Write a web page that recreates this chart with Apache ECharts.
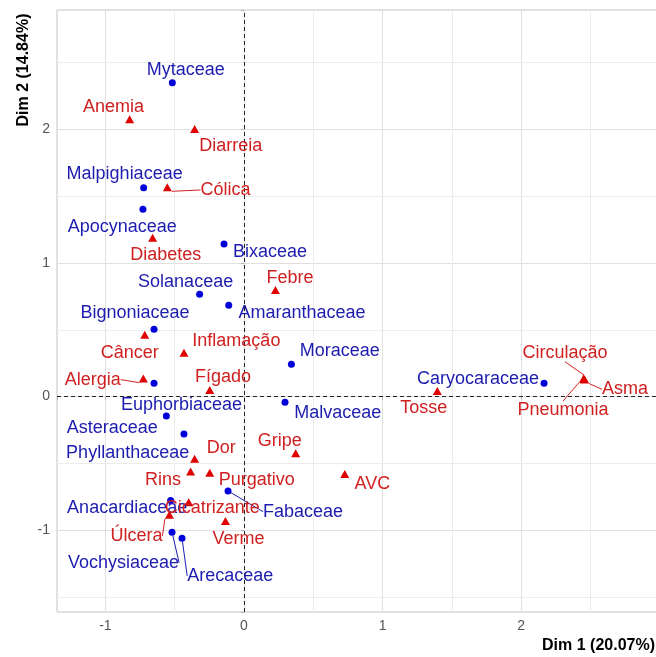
<!DOCTYPE html>
<html>
<head>
<meta charset="utf-8">
<script src="https://cdn.jsdelivr.net/npm/echarts@6/dist/echarts.min.js"></script>
<style>
  html, body { margin: 0; padding: 0; background: #fff; }
  #chart { width: 656px; height: 657px; }
</style>
</head>
<body>
<div id="chart"></div>
<script>
// 一、数据：植物科（蓝色圆点）
const familyNames = ['Mytaceae', 'Malpighiaceae', 'Apocynaceae', 'Bixaceae', 'Solanaceae', 'Amaranthaceae',
  'Bignoniaceae', 'Moraceae', 'Euphorbiaceae', 'Malvaceae', 'Caryocaraceae', 'Asteraceae',
  'Phyllanthaceae', 'Fabaceae', 'Anacardiaceae', 'Vochysiaceae', 'Arecaceae'];
const familyDim1 = [-0.517, -0.724, -0.729, -0.144, -0.320, -0.110, -0.649, 0.342, -0.649, 0.296, 2.165, -0.560,
  -0.433, -0.115, -0.529, -0.519, -0.447];
const familyDim2 = [2.350, 1.564, 1.403, 1.143, 0.766, 0.684, 0.504, 0.243, 0.100, -0.042, 0.100, -0.144,
  -0.279, -0.706, -0.778, -1.015, -1.060];

// 二、数据：用途（红色三角）
const useNames = ['Anemia', 'Diarreia', 'Cólica', 'Diabetes', 'Febre', 'Câncer', 'Inflamação', 'Alergia',
  'Fígado', 'Tosse', 'Circulação', 'Asma', 'Pneumonia', 'Gripe', 'Dor', 'Rins', 'Purgativo', 'AVC',
  'Cicatrizante', 'Úlcera', 'Verme'];
const useDim1 = [-0.825, -0.356, -0.553, -0.659, 0.227, -0.716, -0.433, -0.726, -0.247, 1.395, 2.453, 2.458, 2.450,
  0.373, -0.356, -0.385, -0.247, 0.727, -0.399, -0.538, -0.134];
const useDim2 = [2.076, 2.004, 1.567, 1.190, 0.799, 0.464, 0.329, 0.135, 0.050, 0.043, 0.132, 0.128, 0.136,
  -0.424, -0.464, -0.561, -0.569, -0.579, -0.790, -0.885, -0.930];

// 三、刻度
const xTicks = [-1, 0, 1, 2];
const yTicks = [-1, 0, 1, 2];
const xMinor = [-0.5, 0.5, 1.5, 2.5];
const yMinor = [-1.5, -0.5, 0.5, 1.5, 2.5];

// 标签偏移（像素，相对于点），仿 ggrepel 的摆放
const familyLabelOffset = [[13.5, -13], [-19, -14], [-20.6, 17.7], [45.9, 8.2], [-14, -12.1], [73.2, 7.5],
  [-19.1, -16.3], [48.3, -13.5], [27.4, 21.5], [52.7, 10.7], [-66, -4.6], [-54.2, 12.3],
  [-56.3, 19.3], [75, 20.7], [-43.5, 7.6], [-48.5, 30.4], [48.2, 37.7]];
const useLabelOffset = [[-16.2, -12.1], [36.2, 17.3], [58.1, 2.7], [13.2, 17.3], [14.6, -11.7], [-15, 18.3],
  [52.4, -11.7], [-50.7, 1], [13.3, -12.8], [-13.7, 17.3], [-19, -26.3], [40.4, 9.8], [-20.6, 31.7],
  [-16, -12.5], [26.7, -10.9], [-27.7, 8.3], [47, 7.3], [27.7, 9.7], [23.5, 6], [-33, 21], [13, 18.3]];
const familyWithLine = ['Fabaceae', 'Vochysiaceae', 'Arecaceae'];
const useWithLine = ['Cólica', 'Alergia', 'Circulação', 'Asma', 'Pneumonia', 'Úlcera'];

const FONT = '"Liberation Sans", Arial, sans-serif';
const BLUE = '#0000d8', BLUE_TEXT = '#1c1cb0';
const RED = '#e00000', RED_TEXT = '#d02020';

function buildData(names, d1, d2, withLine, lineColor) {
  return names.map((n, i) => {
    const item = { name: n, value: [d1[i], d2[i]] };
    if (withLine.includes(n)) {
      item.labelLine = { show: true, lineStyle: { color: lineColor, width: 1, opacity: 1 } };
    }
    return item;
  });
}

const chart = echarts.init(document.getElementById('chart'));

const axisCommon = {
  type: 'value',
  axisLine: { show: false },
  axisTick: { show: true, length: 3, lineStyle: { color: '#b3b3b3' } },
  splitLine: { show: true, lineStyle: { color: '#e0e0e0', width: 1 } },
  axisLabel: { color: '#555', fontSize: 14, fontFamily: FONT, margin: 7 }
};

const option = {
  animation: false,
  backgroundColor: '#fff',
  grid: {
    left: 57, top: 10, right: -2, bottom: 45, outerBoundsMode: 'none', containLabel: false,
    show: true, borderColor: '#c4c4c4', borderWidth: 1
  },
  xAxis: Object.assign({}, axisCommon, {
    min: -1.349, max: 2.987,
    axisLabel: Object.assign({}, axisCommon.axisLabel, {
      formatter: v => xTicks.includes(v) ? String(v) : ''
    })
  }),
  yAxis: Object.assign({}, axisCommon, {
    min: -1.612, max: 2.894,
    axisLabel: Object.assign({}, axisCommon.axisLabel, {
      formatter: v => yTicks.includes(v) ? String(v) : ''
    })
  }),
  graphic: [
    { type: 'text', x: 24, y: 70, rotation: Math.PI / 2,
      style: { text: 'Dim 2 (14.84%)', font: 'bold 16px ' + FONT, fill: '#000',
        align: 'center', verticalAlign: 'middle', textAlign: 'center', textVerticalAlign: 'middle' } },
    { type: 'text', x: 655, y: 646,
      style: { text: 'Dim 1 (20.07%)', font: 'bold 16px ' + FONT, fill: '#000',
        align: 'right', verticalAlign: 'middle', textAlign: 'right', textVerticalAlign: 'middle' } }
  ],
  series: [
    {
      // 次网格线
      type: 'scatter', data: [], z: 1,
      markLine: {
        silent: true, symbol: 'none', z: 1, animation: false,
        label: { show: false },
        lineStyle: { color: '#ececec', width: 1, type: 'solid', opacity: 1 },
        data: xMinor.map(v => ({ xAxis: v })).concat(yMinor.map(v => ({ yAxis: v })))
      }
    },
    {
      // 零线（虚线）
      type: 'scatter', data: [], z: 1,
      markLine: {
        silent: true, symbol: 'none', z: 1, animation: false,
        label: { show: false },
        lineStyle: { color: '#222', width: 1, type: [4, 3], opacity: 1 },
        data: [{ xAxis: 0 }, { yAxis: 0 }]
      }
    },
    {
      name: 'Família', type: 'scatter', z: 3,
      symbol: 'circle', symbolSize: 7,
      itemStyle: { color: BLUE, opacity: 1 },
      data: buildData(familyNames, familyDim1, familyDim2, familyWithLine, BLUE_TEXT),
      label: { show: true, position: 'inside', formatter: '{b}', color: BLUE_TEXT, fontSize: 18,
        fontFamily: FONT, textBorderWidth: 0, opacity: 1 },
      labelLine: { show: false },
      labelLayout: p => ({ dx: familyLabelOffset[p.dataIndex][0], dy: familyLabelOffset[p.dataIndex][1] })
    },
    {
      name: 'Uso', type: 'scatter', z: 3,
      symbol: 'triangle', symbolSize: [9, 8],
      itemStyle: { color: RED, opacity: 1 },
      data: buildData(useNames, useDim1, useDim2, useWithLine, RED_TEXT),
      label: { show: true, position: 'inside', formatter: '{b}', color: RED_TEXT, fontSize: 18,
        fontFamily: FONT, textBorderWidth: 0, opacity: 1 },
      labelLine: { show: false },
      labelLayout: p => ({ dx: useLabelOffset[p.dataIndex][0], dy: useLabelOffset[p.dataIndex][1] })
    }
  ]
};

chart.setOption(option);
window.addEventListener('resize', () => chart.resize());
</script>
</body>
</html>
